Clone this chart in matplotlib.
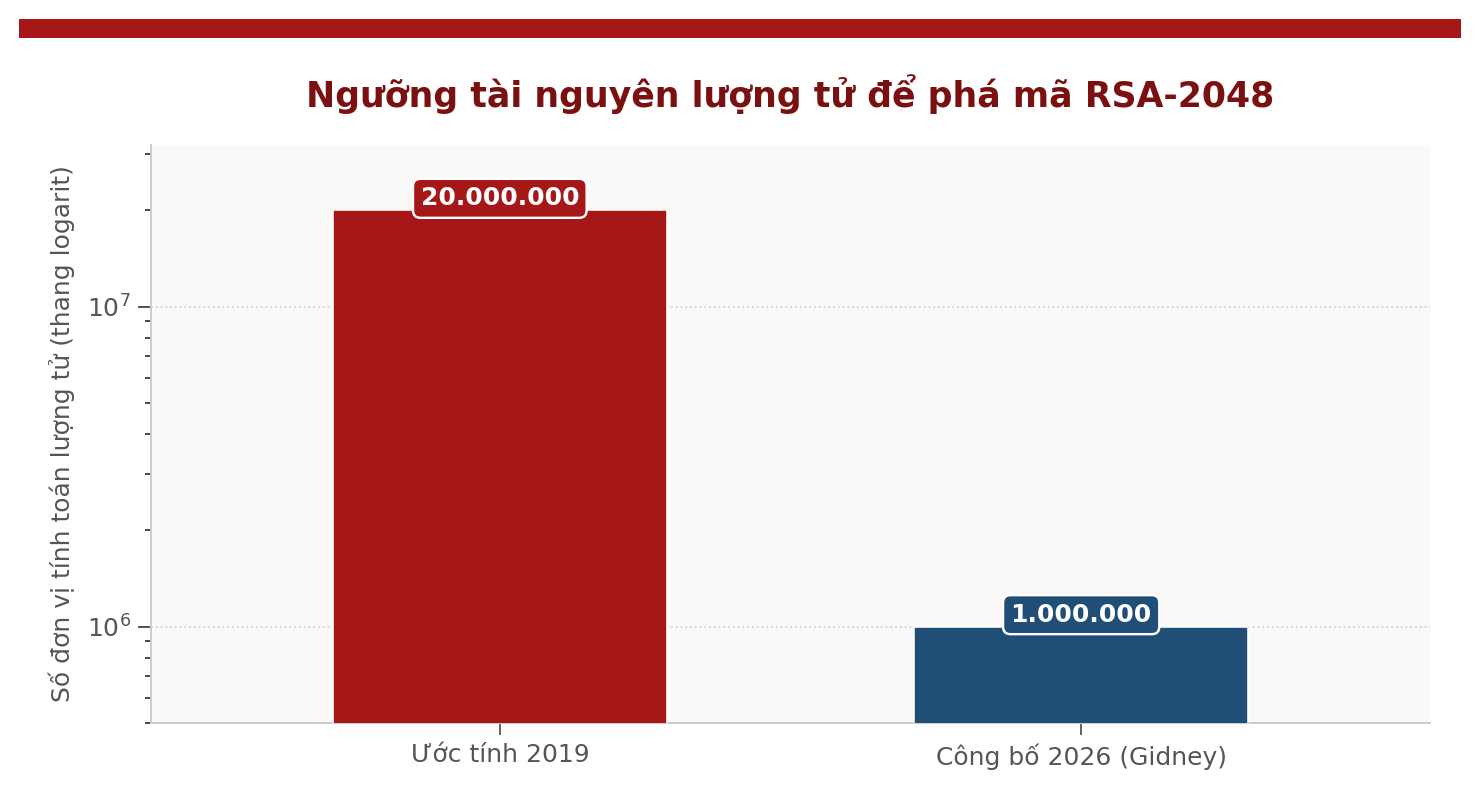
import matplotlib
matplotlib.use("Agg")
import matplotlib.pyplot as plt
from matplotlib.patches import Rectangle

plt.rcParams["font.family"] = ["DejaVu Sans"]

categories = ["Ước tính 2019", "Công bố 2026 (Gidney)"]
qubits = [20_000_000, 1_000_000]
value_labels = ["20.000.000", "1.000.000"]
colors = ["#A61717", "#204E76"]

W, H = 1480, 790
fig = plt.figure(figsize=(W / 144, H / 144), dpi=144)
fig.patch.set_facecolor("white")
ax = fig.add_axes([151 / W, 1 - 723 / H, (1430 - 151) / W, (723 - 145) / H])

# top band
fig.add_artist(Rectangle((19 / W, 1 - 38 / H), (1461 - 19) / W, 19 / H,
                         transform=fig.transFigure, facecolor="#A61717",
                         edgecolor="none"))

ax.set_facecolor("#FAF9F7")
x = range(len(categories))
ax.bar(x, qubits, width=0.575, color=colors, edgecolor="white", linewidth=0.8,
       zorder=3)
ax.set_yscale("log")
ax.set_ylim(5e5, 3.2e7)
ax.set_xlim(-0.6, 1.6)

for i, (v, lab) in enumerate(zip(qubits, value_labels)):
    ax.annotate(lab, (i, v), xytext=(0, 6), textcoords="offset points",
                ha="center", va="center", fontsize=12.5, fontweight="bold",
                color="white", zorder=5,
                bbox=dict(boxstyle="round,pad=0.3", facecolor=colors[i],
                          edgecolor="white", linewidth=1.2))

ax.set_xticks(list(x))
ax.set_xticklabels(categories, fontsize=12.5, color="#555555")
ax.tick_params(axis="x", length=6, width=0.9, color="#555555", pad=4)
ax.tick_params(axis="y", which="major", labelsize=12.5, labelcolor="#555555",
               length=6.5, width=0.9, color="#444444")
ax.tick_params(axis="y", which="minor", length=3, width=0.8, color="#222222")

ax.grid(axis="y", which="major", linestyle=":", color="#D0D0D0", linewidth=0.9,
        zorder=0)
ax.set_axisbelow(True)
for side in ["top", "right"]:
    ax.spines[side].set_visible(False)
for side in ["left", "bottom"]:
    ax.spines[side].set_color("#CCCCCC")
    ax.spines[side].set_linewidth(1.0)

ax.set_ylabel("Số đơn vị tính toán lượng tử (thang logarit)", fontsize=12.5,
              color="#555555", labelpad=6)
fig.text(0.5 * (151 + 1430) / W, 1 - 94 / H,
         "Ngưỡng tài nguyên lượng tử để phá mã RSA-2048",
         ha="center", va="center", fontsize=17.4, fontweight="bold",
         color="#7A1010")

fig.savefig("out.png", dpi=144)
plt.close(fig)
